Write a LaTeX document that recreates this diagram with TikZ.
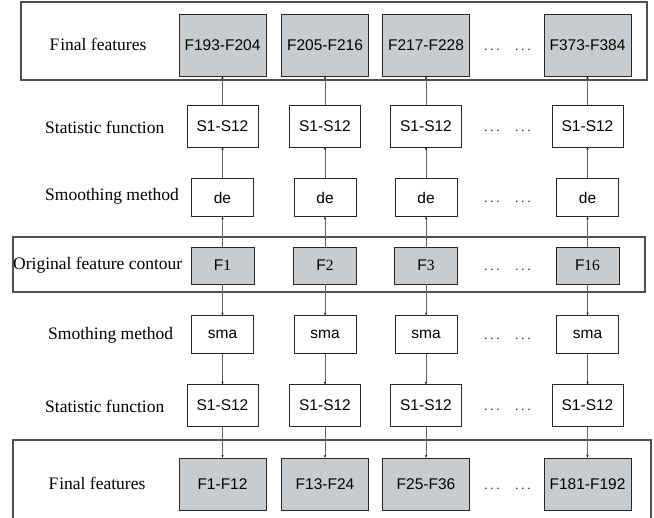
\documentclass[tikz,border=0pt]{standalone}
\usepackage{fontspec}
\setmainfont{Liberation Serif}
\setsansfont{Liberation Sans}
\usetikzlibrary{arrows.meta}
\definecolor{boxgray}{RGB}{200,204,206}
\definecolor{framegray}{RGB}{80,80,80}
\definecolor{linegray}{RGB}{100,100,100}
\newcommand\spacedots{.\kern2.6pt.\kern2.6pt.}

\begin{document}
\begin{tikzpicture}[x=1pt,y=-1pt,
  frame/.style={draw=framegray, line width=1.1pt},
  boxtext/.style={font=\sffamily\fontsize{15.5}{18}\selectfont, inner sep=0pt},
  featbox/.style={boxtext, draw=black!85, fill=boxgray, line width=0.8pt,
    minimum width=87pt, minimum height=62pt},
  featboxlow/.style={featbox, minimum height=52pt},
  origbox/.style={boxtext, draw=black!85, fill=boxgray, line width=0.8pt,
    minimum width=63pt, minimum height=37pt},
  statbox/.style={boxtext, draw=black!85, fill=white, line width=0.7pt,
    minimum width=71pt, minimum height=42pt},
  smoothbox/.style={boxtext, draw=black!85, fill=white, line width=0.7pt,
    minimum width=62pt, minimum height=38pt},
  rowlabel/.style={font=\rmfamily\fontsize{17.5}{20}\selectfont, inner sep=0pt},
  gap/.style={font=\rmfamily\fontsize{14}{16}\selectfont, inner sep=0pt,
    anchor=base, text=black!80},
  conn/.style={draw=linegray, line width=0.8pt,
    -{Stealth[length=2.5pt,width=2.2pt,black]}}
]
\useasboundingbox (0,0) rectangle (654,518);
\clip (0,0) rectangle (654,518);

% frames around the feature rows
\draw[frame] (21,2) rectangle (647,80);
\draw[frame] (13,237) rectangle (645,292);
\draw[frame] (13,540) -- (13,440) -- (651,440) -- (651,540);

% column centres
\def\ca{222.5}\def\cb{325}\def\cc{426}\def\cd{587.5}

% upper final features
\node[rowlabel] (lab1) at (98,44) {F\hspace{1pt}inal features};
\node[featbox] (t1) at (\ca,45) {F193-F204};
\node[featbox] (t2) at (\cb,45) {F205-F216};
\node[featbox] (t3) at (\cc,45) {F217-F228};
\node[featbox] (t4) at (\cd,45) {F373-F384};
\node[gap] (g1a) at (492,51) {\spacedots};
\node[gap] (g1b) at (523,51) {\spacedots};

% upper statistic functions
\node[rowlabel, anchor=west] (lab2) at (45,127) {Statistic function};
\node[statbox] (s1) at (\ca,126) {S1-S12};
\node[statbox] (s2) at (\cb,126) {S1-S12};
\node[statbox] (s3) at (\cc,126) {S1-S12};
\node[statbox] (s4) at (\cd,126) {S1-S12};
\node[gap] (g2a) at (492,132) {\spacedots};
\node[gap] (g2b) at (523,132) {\spacedots};

% smoothing (de)
\node[rowlabel, anchor=west] (lab3) at (45,196) {Smoothing method};
\node[smoothbox] (d1) at (\ca,197.5) {de};
\node[smoothbox] (d2) at (\cb,197.5) {de};
\node[smoothbox] (d3) at (\cc,197.5) {de};
\node[smoothbox] (d4) at (\cd,197.5) {de};
\node[gap] (g3a) at (492,203) {\spacedots};
\node[gap] (g3b) at (523,203) {\spacedots};

% original contours
\node[rowlabel, anchor=west] (lab4) at (13,265) {Original feature contour};
\node[origbox] (o1) at (\ca,265.5) {F\textrm{1}};
\node[origbox] (o2) at (\cb,265.5) {F\textrm{2}};
\node[origbox] (o3) at (\cc,265.5) {F\textrm{3}};
\node[origbox] (o4) at (\cd,265.5) {F\textrm{16}};
\node[gap] (g4a) at (492,271) {\spacedots};
\node[gap] (g4b) at (523,271) {\spacedots};

% smoothing (sma)
\node[rowlabel, anchor=west] (lab5) at (48,335) {Smothing method};
\node[smoothbox] (m1) at (\ca,334.5) {sma};
\node[smoothbox] (m2) at (\cb,334.5) {sma};
\node[smoothbox] (m3) at (\cc,334.5) {sma};
\node[smoothbox] (m4) at (\cd,334.5) {sma};
\node[gap] (g5a) at (492,340) {\spacedots};
\node[gap] (g5b) at (523,340) {\spacedots};

% lower statistic functions
\node[rowlabel, anchor=west] (lab6) at (45,406) {Statistic function};
\node[statbox] (u1) at (\ca,405.5) {S1-S12};
\node[statbox] (u2) at (\cb,405.5) {S1-S12};
\node[statbox] (u3) at (\cc,405.5) {S1-S12};
\node[statbox] (u4) at (\cd,405.5) {S1-S12};
\node[gap] (g6a) at (492,411) {\spacedots};
\node[gap] (g6b) at (523,411) {\spacedots};

% lower final features
\node[rowlabel] (lab7) at (97,483) {F\hspace{1pt}inal features};
\node[featboxlow] (b1) at (\ca,484) {F1-F12};
\node[featboxlow] (b2) at (\cb,484) {F13-F24};
\node[featboxlow] (b3) at (\cc,484) {F25-F36};
\node[featboxlow] (b4) at (\cd,484) {F181-F192};
\node[gap] (g7a) at (492,490) {\spacedots};
\node[gap] (g7b) at (523,490) {\spacedots};

% connectors
\foreach \i in {1,2,3,4}{
  \draw[conn] (o\i) -- (d\i);
  \draw[conn] (d\i) -- (s\i);
  \draw[conn] (s\i) -- (t\i);
  \draw[conn] (o\i) -- (m\i);
  \draw[conn] (m\i) -- (u\i);
  \draw[conn] (u\i) -- (b\i);
}
\end{tikzpicture}
\end{document}
